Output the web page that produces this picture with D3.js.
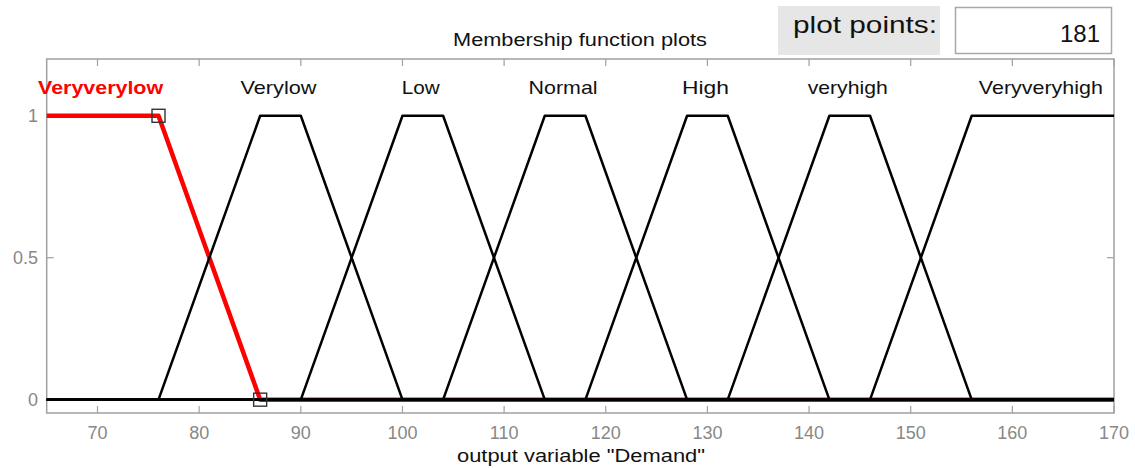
<!DOCTYPE html>
<html>
<head>
<meta charset="utf-8">
<script src="https://cdn.jsdelivr.net/npm/d3@7"></script>
<style>
  html, body { margin: 0; padding: 0; background: #fff; }
  svg { display: block; font-family: "Liberation Sans", Arial, Helvetica, sans-serif; }
</style>
</head>
<body>
<svg id="chart" width="1135" height="468"></svg>
<script>
// Output variable "Demand": trapezoidal membership functions [a, b, c, d]
const mfNames  = ["Veryverylow", "Verylow", "Low", "Normal", "High", "veryhigh", "Veryveryhigh"];
const mfParams = [
  [65, 65, 76, 86],
  [76, 86, 90, 100],
  [90, 100, 104, 114],
  [104, 114, 118, 128],
  [118, 128, 132, 142],
  [132, 142, 146, 156],
  [146, 156, 170, 170]
];
const selectedIndex = 0;
const xRange = [65, 170];
const xTicks = [70, 80, 90, 100, 110, 120, 130, 140, 150, 160, 170];
const yTicks = [0, 0.5, 1];
const yTickLabels = ["0", "0.5", "1"];
const plotPoints = "181";

const svg = d3.select("#chart");

const plotLeft = 46.7, plotRight = 1114, plotTop = 59, plotBottom = 413;
const x = d3.scaleLinear().domain(xRange).range([plotLeft, plotRight]);
const y = d3.scaleLinear().domain([-0.047, 1.2]).range([plotBottom, plotTop]);

function trap(v, p) {
  const [a, b, c, d] = p;
  if (v < a || v > d) return 0;
  if (v < b) return (v - a) / (b - a);
  if (v <= c) return 1;
  return (d - v) / (d - c);
}

function mfPoints(p) {
  const pts = [[xRange[0], trap(xRange[0], p)]];
  const vy = [0, 1, 1, 0];
  p.forEach((v, i) => { if (v > xRange[0] && v < xRange[1]) pts.push([v, vy[i]]); });
  pts.push([xRange[1], trap(xRange[1], p)]);
  return pts;
}

// Header: title, "plot points" panel and its input field
svg.append("text")
  .attr("x", 580).attr("y", 46)
  .attr("text-anchor", "middle")
  .attr("font-size", 17.5).attr("fill", "#111")
  .attr("textLength", 254).attr("lengthAdjust", "spacingAndGlyphs")
  .text("Membership function plots");

svg.append("rect")
  .attr("x", 778).attr("y", 6).attr("width", 162).attr("height", 49)
  .attr("fill", "#e6e6e6");
svg.append("text")
  .attr("x", 793).attr("y", 33)
  .attr("font-size", 24).attr("fill", "#111")
  .attr("textLength", 144).attr("lengthAdjust", "spacingAndGlyphs")
  .text("plot points:");

svg.append("rect")
  .attr("x", 955.5).attr("y", 7.5).attr("width", 156).attr("height", 46)
  .attr("fill", "#fff").attr("stroke", "#a8a8a8").attr("stroke-width", 1.5);
svg.append("text")
  .attr("x", 1100).attr("y", 42)
  .attr("text-anchor", "end")
  .attr("font-size", 24).attr("fill", "#111")
  .text(plotPoints);

// Axes box with inward ticks on all sides
const axisColor = "#a0a0a0";
const tickLen = 7;
const g = svg.append("g");

g.append("rect")
  .attr("x", plotLeft).attr("y", plotTop).attr("width", plotRight - plotLeft).attr("height", plotBottom - plotTop)
  .attr("fill", "none").attr("stroke", axisColor).attr("stroke-width", 1.5);

xTicks.forEach(t => {
  g.append("line").attr("x1", x(t)).attr("x2", x(t)).attr("y1", plotBottom).attr("y2", plotBottom - tickLen)
    .attr("stroke", axisColor).attr("stroke-width", 1.2);
  g.append("line").attr("x1", x(t)).attr("x2", x(t)).attr("y1", plotTop).attr("y2", plotTop + tickLen)
    .attr("stroke", axisColor).attr("stroke-width", 1.2);
  g.append("text").attr("x", x(t)).attr("y", 439)
    .attr("text-anchor", "middle").attr("font-size", 18).attr("fill", "#888")
    .text(t);
});

yTicks.forEach((t, i) => {
  g.append("line").attr("x1", plotLeft).attr("x2", plotLeft + tickLen).attr("y1", y(t)).attr("y2", y(t))
    .attr("stroke", axisColor).attr("stroke-width", 1.2);
  g.append("line").attr("x1", plotRight).attr("x2", plotRight - tickLen).attr("y1", y(t)).attr("y2", y(t))
    .attr("stroke", axisColor).attr("stroke-width", 1.2);
  g.append("text").attr("x", 38).attr("y", y(t)).attr("dy", "0.36em")
    .attr("text-anchor", "end").attr("font-size", 18).attr("fill", "#888")
    .text(yTickLabels[i]);
});

svg.append("text")
  .attr("x", 581).attr("y", 462)
  .attr("text-anchor", "middle")
  .attr("font-size", 17.5).attr("fill", "#111")
  .attr("textLength", 248).attr("lengthAdjust", "spacingAndGlyphs")
  .text('output variable "Demand"');

// Membership function curves: selected one in thick red underneath
const line = d3.line().x(d => x(d[0])).y(d => y(d[1]));
const order = mfParams.map((_, i) => i).sort((a, b) => (b === selectedIndex) - (a === selectedIndex));

order.forEach(i => {
  const sel = i === selectedIndex;
  svg.append("path")
    .attr("d", line(mfPoints(mfParams[i])))
    .attr("fill", "none")
    .attr("stroke", sel ? "#ff0000" : "#000")
    .attr("stroke-width", sel ? 4.5 : 2.5)
    .attr("stroke-linejoin", "round");
});

// Vertex handles of the selected function
const sp = mfParams[selectedIndex];
const vyv = [0, 1, 1, 0];
sp.forEach((v, i) => {
  if (v > xRange[0] && v < xRange[1]) {
    svg.append("rect")
      .attr("x", x(v) - 6.5).attr("y", y(vyv[i]) - 6.5)
      .attr("width", 13).attr("height", 13)
      .attr("fill", "none").attr("stroke", "#333").attr("stroke-width", 1.4);
  }
});

// Function names above each plateau
const labelWidths = [125, 76, 38, 69, 47, 80, 124];
mfParams.forEach((p, i) => {
  const cx = (Math.max(p[1], xRange[0]) + Math.min(p[2], xRange[1])) / 2;
  const sel = i === selectedIndex;
  svg.append("text")
    .attr("x", x(cx) - 2).attr("y", y(1.1)).attr("dy", "0.36em")
    .attr("text-anchor", "middle")
    .attr("font-size", 18.5)
    .attr("font-weight", sel ? "bold" : "normal")
    .attr("fill", sel ? "#ff0000" : "#111")
    .attr("textLength", labelWidths[i]).attr("lengthAdjust", "spacingAndGlyphs")
    .text(mfNames[i]);
});
</script>
</body>
</html>
